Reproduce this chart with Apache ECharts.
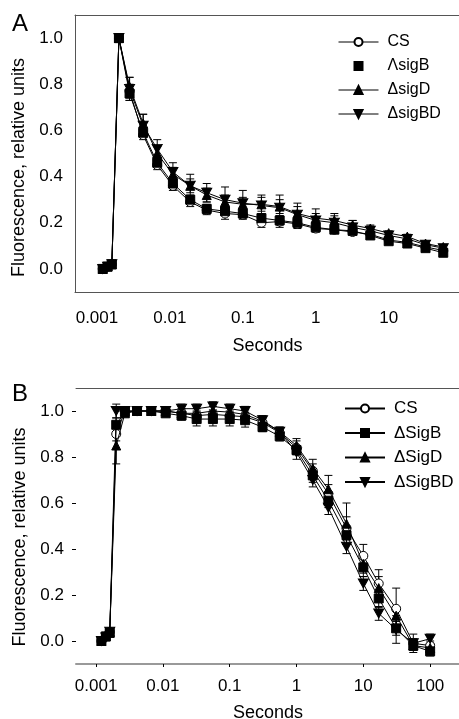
<!DOCTYPE html>
<html>
<head>
<meta charset="utf-8">
<script src="https://cdn.jsdelivr.net/npm/echarts@6/dist/echarts.min.js"></script>
<style>
  html, body { margin: 0; padding: 0; background: #fff; }
  #chart { width: 459px; height: 719px; }
</style>
</head>
<body>
<div id="chart"></div>
<script>
// panel A: decay after the flash
const timesA = [0.0012, 0.0014, 0.0016, 0.002, 0.0028, 0.0043, 0.0067, 0.011, 0.019, 0.032, 0.057, 0.1, 0.18, 0.32, 0.56, 1, 1.8, 3.2, 5.6, 10, 18, 32, 56];
const csA    = [0.00, 0.01, 0.02, 1.00, 0.77, 0.58, 0.45, 0.36, 0.29, 0.255, 0.24, 0.235, 0.20, 0.205, 0.195, 0.175, 0.17, 0.16, 0.15, 0.125, 0.115, 0.095, 0.08];
const sigBA  = [0.00, 0.01, 0.02, 1.00, 0.76, 0.59, 0.46, 0.37, 0.30, 0.26, 0.25, 0.24, 0.22, 0.21, 0.20, 0.18, 0.17, 0.165, 0.145, 0.12, 0.11, 0.09, 0.07];
const sigDA  = [0.00, 0.01, 0.02, 1.00, 0.79, 0.63, 0.50, 0.41, 0.36, 0.32, 0.29, 0.28, 0.28, 0.27, 0.24, 0.22, 0.21, 0.19, 0.175, 0.155, 0.14, 0.11, 0.095];
const sigBDA = [0.00, 0.01, 0.02, 1.00, 0.78, 0.62, 0.52, 0.42, 0.36, 0.33, 0.30, 0.285, 0.275, 0.265, 0.235, 0.21, 0.20, 0.18, 0.165, 0.145, 0.13, 0.105, 0.09];
const errCsA    = [0.005, 0.005, 0.005, 0.01, 0.03, 0.02, 0.02, 0.02, 0.02, 0.02, 0.025, 0.02, 0.02, 0.025, 0.02, 0.015, 0.015, 0.015, 0.01, 0.01, 0.01, 0.01, 0.01];
const errSigBA  = [0.005, 0.005, 0.005, 0.01, 0.03, 0.02, 0.02, 0.02, 0.02, 0.02, 0.02, 0.02, 0.02, 0.02, 0.02, 0.015, 0.015, 0.015, 0.01, 0.01, 0.01, 0.01, 0.01];
const errSigDA  = [0.005, 0.005, 0.005, 0.01, 0.04, 0.04, 0.03, 0.03, 0.03, 0.03, 0.03, 0.03, 0.03, 0.03, 0.03, 0.02, 0.02, 0.02, 0.015, 0.01, 0.01, 0.01, 0.01];
const errSigBDA = [0.005, 0.005, 0.005, 0.01, 0.05, 0.05, 0.04, 0.04, 0.05, 0.04, 0.055, 0.055, 0.045, 0.055, 0.05, 0.05, 0.04, 0.03, 0.02, 0.01, 0.01, 0.01, 0.01];

// panel B: fluorescence after continuous light
const timesB = [0.0012, 0.0014, 0.0016, 0.002, 0.0027, 0.0041, 0.0067, 0.011, 0.019, 0.032, 0.056, 0.1, 0.17, 0.31, 0.56, 1, 1.75, 3, 5.6, 10, 17, 31, 56, 100];
const csB    = [0.00, 0.02, 0.04, 0.90, 1.00, 1.00, 1.00, 1.00, 0.99, 0.98, 0.985, 0.98, 0.975, 0.95, 0.905, 0.84, 0.74, 0.64, 0.49, 0.37, 0.25, 0.14, -0.01, -0.02];
const sigBB  = [0.00, 0.02, 0.035, 0.94, 0.995, 1.00, 1.00, 0.99, 0.98, 0.965, 0.965, 0.965, 0.96, 0.93, 0.89, 0.83, 0.72, 0.61, 0.46, 0.32, 0.185, 0.055, -0.02, -0.045];
const sigDB  = [0.00, 0.02, 0.04, 0.85, 0.99, 1.00, 1.00, 1.00, 0.99, 0.99, 1.00, 0.995, 0.985, 0.955, 0.91, 0.85, 0.75, 0.66, 0.51, 0.335, 0.23, 0.11, -0.02, -0.03];
const sigBDB = [0.00, 0.015, 0.04, 1.00, 1.00, 1.00, 1.00, 1.00, 1.01, 1.01, 1.02, 1.01, 1.00, 0.96, 0.91, 0.82, 0.70, 0.58, 0.41, 0.25, 0.12, 0.05, -0.01, 0.01];
const errCsB    = [0.005, 0.005, 0.005, 0.03, 0.01, 0.01, 0.01, 0.01, 0.015, 0.02, 0.02, 0.02, 0.02, 0.02, 0.02, 0.03, 0.03, 0.04, 0.05, 0.05, 0.06, 0.09, 0.02, 0.02];
const errSigBB  = [0.005, 0.005, 0.005, 0.03, 0.01, 0.01, 0.01, 0.01, 0.02, 0.03, 0.03, 0.03, 0.03, 0.02, 0.02, 0.02, 0.03, 0.03, 0.04, 0.04, 0.04, 0.03, 0.02, 0.02];
const errSigDB  = [0.005, 0.005, 0.005, 0.08, 0.01, 0.01, 0.01, 0.01, 0.02, 0.02, 0.02, 0.02, 0.02, 0.02, 0.02, 0.03, 0.04, 0.06, 0.09, 0.04, 0.05, 0.04, 0.02, 0.02];
const errSigBDB = [0.005, 0.005, 0.005, 0.03, 0.01, 0.01, 0.01, 0.01, 0.02, 0.02, 0.02, 0.02, 0.02, 0.02, 0.02, 0.03, 0.03, 0.03, 0.03, 0.03, 0.03, 0.06, 0.04, 0.02];

const namesA = ['CS', 'ΛsigB', 'ΔsigD', 'ΔsigBD'];
const namesB = ['CS', 'ΔSigB', 'ΔSigD', 'ΔSigBD'];
const xTicksA = [0.001, 0.01, 0.1, 1, 10];
const xTicksB = [0.001, 0.01, 0.1, 1, 10, 100];
const yTicks = [0, 0.2, 0.4, 0.6, 0.8, 1.0];

const FONT = 'Liberation Sans, Arial, sans-serif';
const downTri = 'path://M0,0 L10,0 L5,9 Z';
const symbols = ['circle', 'rect', 'triangle', downTri];

const zip = (xs, ys) => xs.map((x, i) => [x, ys[i]]);
const zip3 = (xs, ys, es) => xs.map((x, i) => [x, ys[i], es[i]]);

function renderErr(params, api) {
    const x = api.value(0), y = api.value(1), e = api.value(2);
    const hi = api.coord([x, y + e]);
    const lo = api.coord([x, y - e]);
    const w = 4;
    const st = { stroke: '#000', lineWidth: 1 };
    return {
        type: 'group',
        children: [
            { type: 'line', shape: { x1: hi[0], y1: hi[1], x2: lo[0], y2: lo[1] }, style: st },
            { type: 'line', shape: { x1: hi[0] - w, y1: hi[1], x2: hi[0] + w, y2: hi[1] }, style: st },
            { type: 'line', shape: { x1: lo[0] - w, y1: lo[1], x2: lo[0] + w, y2: lo[1] }, style: st }
        ]
    };
}

function panelSeries(idx, names, times, vals, errs) {
    const out = [];
    vals.forEach((v, i) => {
        out.push({
            type: 'custom', xAxisIndex: idx * 2, yAxisIndex: idx, z: 1,
            renderItem: renderErr, silent: true,
            encode: { x: 0, y: 1 },
            data: zip3(times, v, errs[i])
        });
    });
    vals.forEach((v, i) => {
        out.push({
            type: 'line', name: names[i], xAxisIndex: idx * 2, yAxisIndex: idx, z: 3 + i,
            data: zip(times, v),
            symbol: symbols[i], symbolSize: i === 3 ? [10, 9] : 9,
            showAllSymbol: true,
            lineStyle: { color: '#000', width: 1 },
            itemStyle: { color: i === 0 ? '#fff' : '#000', borderColor: '#000', borderWidth: 1 },
            animation: false
        });
    });
    return out;
}

const chart = echarts.init(document.getElementById('chart'));

function xAxisFor(grid, max, ticks, showTick, lineColor, lineWidth, nameGap, labelMargin) {
    return [{
        type: 'log', gridIndex: grid, min: 0.0005, max: max, logBase: 10,
        name: 'Seconds', nameLocation: 'middle', nameGap: nameGap,
        nameTextStyle: { fontFamily: FONT, fontSize: 18, color: '#000' },
        axisLine: { show: true, onZero: false, lineStyle: { color: lineColor, width: lineWidth } },
        axisTick: { show: showTick, length: 3, inside: false, customValues: ticks, lineStyle: { color: '#000' } },
        axisLabel: {
            customValues: ticks, margin: labelMargin,
            fontFamily: FONT, fontSize: 17, color: '#000',
            formatter: v => String(+Number(v).toPrecision(6))
        },
        splitLine: { show: false }, minorTick: { show: false }
    }, {
        type: 'log', gridIndex: grid, min: 0.0005, max: max, position: 'top',
        axisLine: { show: true, onZero: false, lineStyle: { color: '#555', width: 1 } },
        axisTick: { show: false }, axisLabel: { show: false }, splitLine: { show: false }
    }];
}

function yAxisFor(grid, showLine, showTick, namePad) {
    return {
        type: 'value', gridIndex: grid, min: -0.1, max: 1.1,
        name: 'Fluorescence, relative units', nameLocation: 'middle', nameGap: 44,
        nameTextStyle: { fontFamily: FONT, fontSize: 18, color: '#000', padding: [0, namePad, 0, 0] },
        axisLine: { show: showLine, onZero: false, lineStyle: { color: '#555', width: 1 } },
        axisTick: { show: showTick, length: 4, customValues: yTicks, lineStyle: { color: '#000' } },
        axisLabel: {
            customValues: yTicks, margin: 12,
            fontFamily: FONT, fontSize: 17, color: '#000',
            formatter: v => Number(v).toFixed(1)
        },
        splitLine: { show: false }
    };
}

const legendBase = {
    orient: 'vertical', itemWidth: 40, itemHeight: 10, itemGap: 8,
    textStyle: { fontFamily: FONT, fontSize: 16, color: '#000', padding: [0, 0, 0, 4] },
    selectedMode: false
};

const option = {
    backgroundColor: '#fff',
    animation: false,
    grid: [
        { left: 75, top: 15, right: -1, height: 277, outerBoundsMode: 'none', containLabel: false },
        { left: 76, top: 388, right: -1, height: 276, outerBoundsMode: 'none', containLabel: false }
    ],
    xAxis: [
        ...xAxisFor(0, 95, xTicksA, false, '#555', 1, 45, 18),
        ...xAxisFor(1, 280, xTicksB, true, '#999', 2, 40, 14)
    ],
    yAxis: [yAxisFor(0, true, false, 28), yAxisFor(1, false, true, 22)],
    legend: [
        Object.assign({}, legendBase, {
            left: 333, top: 29,
            lineStyle: { width: 1 },
            data: [
                { name: namesA[0] },
                { name: namesA[1], lineStyle: { opacity: 0 } },
                { name: namesA[2] },
                { name: namesA[3] }
            ]
        }),
        Object.assign({}, legendBase, {
            left: 339, top: 395, itemGap: 7.5,
            textStyle: Object.assign({}, legendBase.textStyle, { fontSize: 17 }),
            data: namesB
        })
    ],
    graphic: [
        { type: 'text', left: 12, top: 12, style: { text: 'A', font: '24px ' + FONT, fill: '#000' } },
        { type: 'text', left: 12, top: 382, style: { text: 'B', font: '24px ' + FONT, fill: '#000' } }
    ],
    series: [
        ...panelSeries(0, namesA, timesA, [csA, sigBA, sigDA, sigBDA], [errCsA, errSigBA, errSigDA, errSigBDA]),
        ...panelSeries(1, namesB, timesB, [csB, sigBB, sigDB, sigBDB], [errCsB, errSigBB, errSigDB, errSigBDB])
    ]
};

chart.setOption(option);
</script>
</body>
</html>
